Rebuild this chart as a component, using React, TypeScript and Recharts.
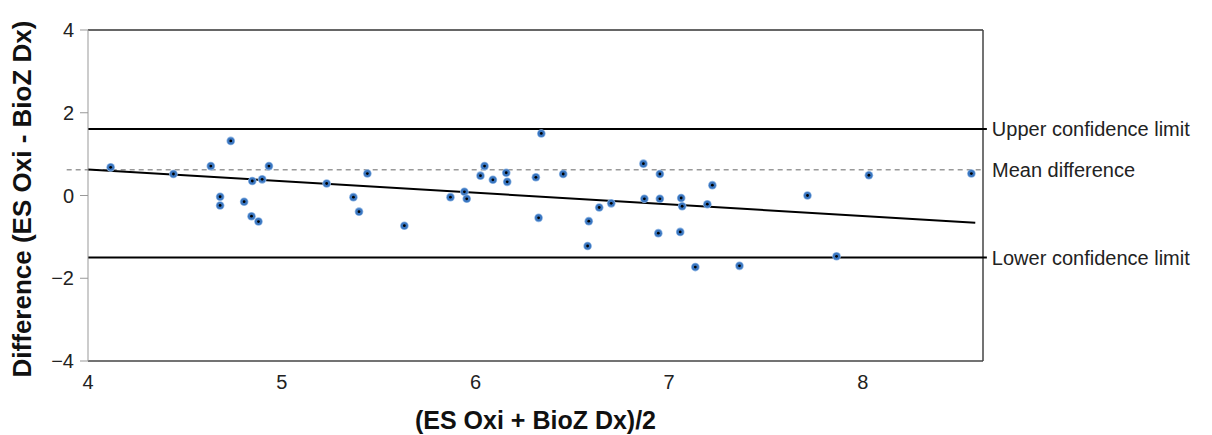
import React from 'react';
import { ScatterChart, Scatter, XAxis, YAxis, ReferenceLine } from 'recharts';

const xValues = [4.117, 4.441, 4.634, 4.737, 4.682, 4.682, 4.806, 4.844, 4.848, 4.880, 4.899, 4.934, 5.232, 5.370, 5.399, 5.442,
  5.633, 5.871, 5.943, 5.955, 6.026, 6.047, 6.090, 6.159, 6.164, 6.312, 6.326, 6.340, 6.453, 6.585, 6.579, 6.639, 6.701,
  6.867, 6.872, 6.952, 6.952, 6.944, 7.062, 7.067, 7.057, 7.197, 7.223, 7.135, 7.363, 7.714, 7.864, 8.031, 8.560];
const yValues = [0.68, 0.52, 0.71, 1.32, -0.03, -0.24, -0.15, -0.50, 0.35, -0.63, 0.39, 0.71, 0.29, -0.04, -0.39, 0.53,
  -0.73, -0.04, 0.09, -0.08, 0.48, 0.71, 0.38, 0.55, 0.33, 0.44, -0.54, 1.50, 0.52, -0.62, -1.22, -0.29, -0.19,
  0.77, -0.08, 0.52, -0.08, -0.91, -0.06, -0.26, -0.88, -0.21, 0.25, -1.73, -1.70, 0.00, -1.47, 0.49, 0.53];

const xTicks = [4, 5, 6, 7, 8];
const yTicks = [-4, -2, 0, 2, 4];
const xDomain = [4, 8.62];
const upperLimit = 1.61;
const meanDiff = 0.62;
const lowerLimit = -1.5;
const regressionX = [4, 8.58];
const regressionY = [0.63, -0.66];

const points = xValues.map((x, i) => ({ x, y: yValues[i] }));

const FONT = 'Liberation Sans, Arial, sans-serif';

const Dot = (props: any) => {
  const { cx, cy } = props;
  if (cx == null || cy == null) return null;
  return (
    <g>
      <circle cx={cx} cy={cy} r={4.3} fill="#8fb6e4" />
      <circle cx={cx} cy={cy} r={3.5} fill="#3a76c0" />
      <circle cx={cx} cy={cy} r={1.4} fill="#000" />
    </g>
  );
};

const fmt = (v: number) => String(v).replace('-', '\u2212');

export default function App() {
  return (
    <div style={{ position: 'absolute', left: 0, top: 0, width: 1212, height: 435, background: '#fff' }}>
      <ScatterChart
        width={1212}
        height={435}
        margin={{ top: 30, right: 229, bottom: 0, left: 0 }}
        style={{ fontFamily: FONT }}
      >
        <XAxis
          dataKey="x"
          type="number"
          domain={xDomain}
          ticks={xTicks}
          allowDataOverflow
          height={74}
          tickLine={false}
          tickSize={8}
          tickMargin={6}
          axisLine={{ stroke: '#444', strokeWidth: 1.5 }}
          tick={{ fill: '#222', fontSize: 20, fontFamily: FONT }}
          label={(p: any) => {
            const vb = p.viewBox || { x: 88, y: 361, width: 895, height: 74 };
            return (
              <text x={vb.x + vb.width / 2} y={429} textAnchor="middle" fontSize={25} fontWeight="bold" fill="#111" fontFamily={FONT}>
                (ES Oxi + BioZ Dx)/2
              </text>
            );
          }}
        />
        <YAxis
          dataKey="y"
          type="number"
          domain={[-4, 4]}
          ticks={yTicks}
          width={88}
          tickSize={8}
          tickMargin={6}
          tickFormatter={fmt}
          axisLine={{ stroke: '#999' }}
          tickLine={{ stroke: '#999' }}
          tick={{ fill: '#222', fontSize: 20, fontFamily: FONT }}
          label={() => (
            <text x={22} y={199} transform="rotate(-90, 22, 199)" textAnchor="middle" dominantBaseline="central" fontSize={26} fontWeight="bold" fill="#111" fontFamily={FONT}>
              Difference (ES Oxi - BioZ Dx)
            </text>
          )}
        />
        <ReferenceLine y={4} stroke="#333" strokeWidth={1.5} />
        <ReferenceLine x={xDomain[1]} stroke="#444" strokeWidth={1.5} />
        <ReferenceLine
          segment={[{ x: 3.89, y: meanDiff }, { x: xDomain[1], y: meanDiff }]}
          ifOverflow="visible"
          stroke="#999"
          strokeWidth={1.5}
          strokeDasharray="5 4"
          label={{ value: 'Mean difference', position: 'right', offset: 9, fill: '#222', fontSize: 20, fontFamily: FONT }}
        />
        <ReferenceLine
          segment={[{ x: 4, y: upperLimit }, { x: 8.64, y: upperLimit }]}
          ifOverflow="visible"
          stroke="#000"
          strokeWidth={2}
          label={{ value: 'Upper confidence limit', position: 'right', offset: 5, fill: '#222', fontSize: 20, fontFamily: FONT }}
        />
        <ReferenceLine
          segment={[{ x: 4, y: lowerLimit }, { x: 8.64, y: lowerLimit }]}
          ifOverflow="visible"
          stroke="#000"
          strokeWidth={2}
          label={{ value: 'Lower confidence limit', position: 'right', offset: 5, fill: '#222', fontSize: 20, fontFamily: FONT }}
        />
        <ReferenceLine
          segment={[{ x: regressionX[0], y: regressionY[0] }, { x: regressionX[1], y: regressionY[1] }]}
          ifOverflow="visible"
          stroke="#000"
          strokeWidth={2}
        />
        <Scatter data={points} shape={<Dot />} isAnimationActive={false} />
      </ScatterChart>
    </div>
  );
}
